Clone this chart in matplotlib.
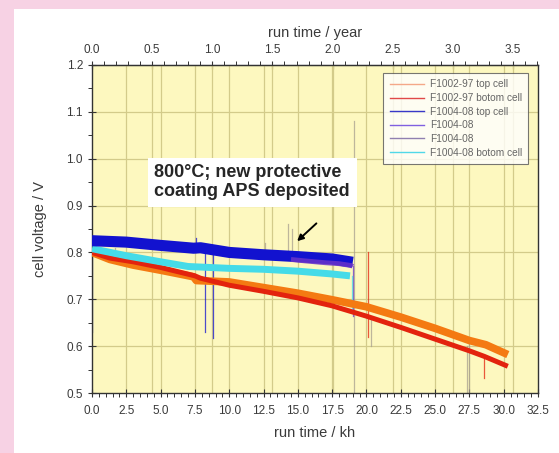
import numpy as np
import matplotlib
matplotlib.use("Agg")
import matplotlib.pyplot as plt
from matplotlib.lines import Line2D
from matplotlib.patches import Rectangle
from matplotlib.ticker import MultipleLocator, FormatStrFormatter

plt.rcParams['font.family'] = ['Liberation Sans', 'DejaVu Sans']

# --- data (run time in kh, cell voltage in V) ---
f1002_top_x = [0.0, 1.3, 3.0, 5.0, 7.4, 7.6, 10.0, 12.5, 15.0, 17.5, 20.0, 22.5, 25.0, 27.5, 28.7, 30.3]
f1002_top_y = [0.800, 0.785, 0.773, 0.762, 0.748, 0.740, 0.737, 0.725, 0.713, 0.699, 0.684, 0.662, 0.638, 0.612, 0.603, 0.582]

f1002_bot_x = [0.0, 1.3, 3.0, 5.0, 7.5, 7.9, 10.0, 12.5, 15.0, 17.5, 20.0, 22.5, 25.0, 27.5, 28.6, 30.3]
f1002_bot_y = [0.800, 0.788, 0.780, 0.768, 0.750, 0.745, 0.730, 0.717, 0.703, 0.686, 0.664, 0.640, 0.615, 0.590, 0.578, 0.557]

f1004_top_x = [0.0, 2.5, 5.0, 7.4, 7.9, 10.0, 12.5, 15.0, 17.5, 19.0]
f1004_top_y = [0.825, 0.822, 0.815, 0.809, 0.810, 0.800, 0.795, 0.791, 0.786, 0.779]

f1004_a_x = [14.5, 15.5, 17.0, 18.0, 18.9, 19.0]
f1004_a_y = [0.785, 0.782, 0.778, 0.776, 0.772, 0.770]

f1004_bot_x = [0.0, 2.5, 5.0, 7.0, 10.0, 12.5, 15.0, 17.5, 18.8]
f1004_bot_y = [0.808, 0.793, 0.780, 0.770, 0.766, 0.764, 0.760, 0.754, 0.750]

labels = ["F1002-97 top cell", "F1002-97 botom cell", "F1004-08 top cell",
          "F1004-08", "F1004-08", "F1004-08 botom cell"]
colors = ["#f47a12", "#e3230e", "#1212cf", "#6a34c8", "#8878a8", "#45dbe8"]
legend_colors = ["#f4a888", "#e04848", "#3838c8", "#8060e0", "#9080b0", "#50d8e8"]

# single-sample spikes in the records: x, low, high, series index
spike_x = [0.03, 8.2, 8.8, 7.6, 19.1, 19.0, 18.95, 20.1, 28.6, 1.7, 12.6, 14.3, 14.6, 20.3, 27.3, 27.5]
spike_lo = [0.630, 0.630, 0.617, 0.800, 0.500, 0.665, 0.670, 0.620, 0.532, 0.780, 0.790, 0.800, 0.800, 0.600, 0.500, 0.500]
spike_hi = [0.825, 0.805, 0.803, 0.830, 1.080, 0.770, 0.750, 0.800, 0.580, 0.810, 0.820, 0.860, 0.850, 0.660, 0.600, 0.610]
spike_series = [2, 2, 2, 2, 4, 3, 5, 1, 1, 4, 4, 4, 4, 0, 4, 4]

year_ticks = [0.0, 0.5, 1.0, 1.5, 2.0, 2.5, 3.0, 3.5]
KH_PER_YEAR = 8.766

fig = plt.figure(figsize=(5.59, 4.53), dpi=100)
fig.patch.set_facecolor("#f7d2e4")
fig.patches.append(Rectangle((14 / 559, 0), 1 - 14 / 559, 1 - 9 / 453,
                             transform=fig.transFigure, facecolor="white",
                             edgecolor="none", zorder=-5))

ax = fig.add_axes([92 / 559, 1 - 393 / 453, 446 / 559, 328 / 453])
ax.set_zorder(2)
ax.set_facecolor("#fdf8bf")
ax.set_xlim(0, 32.5)
ax.set_ylim(0.5, 1.2)

grid_c = "#d3cb8a"
for v in np.arange(2.5, 32.5, 2.5):
    ax.axvline(v, color=grid_c, lw=0.9, zorder=1)
for v in year_ticks[1:]:
    ax.axvline(v * KH_PER_YEAR, color=grid_c, lw=0.9, zorder=1)
for v in np.arange(0.6, 1.15, 0.1):
    ax.axhline(v, color=grid_c, lw=0.9, zorder=1)

for x, lo, hi, s in zip(spike_x, spike_lo, spike_hi, spike_series):
    c = colors[s] if s in (1, 2, 3, 5) else "#a8a090"
    ax.plot([x, x], [lo, hi], color=c, lw=0.9, alpha=0.75, zorder=2)

band = dict(solid_capstyle="butt", solid_joinstyle="round")
ax.plot(f1002_top_x, f1002_top_y, color=colors[0], lw=5.5, zorder=3, **band)
ax.plot(f1002_bot_x, f1002_bot_y, color=colors[1], lw=3.6, zorder=4, **band)
ax.plot(f1004_bot_x, f1004_bot_y, color=colors[5], lw=5, zorder=5, **band)
ax.plot(f1004_top_x, f1004_top_y, color=colors[2], lw=8, zorder=6, **band)
ax.plot(f1004_a_x, f1004_a_y, color=colors[3], lw=3.5, alpha=0.85, zorder=7, **band)

txt_c = "#3a3a3a"
ax.text(4.55, 0.950, "800°C; new protective\ncoating APS deposited",
        fontsize=13, fontweight="bold", color="#262626", ha="left", va="center",
        linespacing=1.1, zorder=9,
        bbox=dict(facecolor="white", edgecolor="none", pad=5))
ax.annotate("", xy=(14.8, 0.820), xytext=(16.5, 0.866),
            arrowprops=dict(arrowstyle="-|>", color="black", lw=1.4,
                            mutation_scale=9), zorder=9)

handles = [Line2D([], [], color=c, lw=1.0) for c in legend_colors]
leg = ax.legend(handles, labels, loc="upper right", bbox_to_anchor=(0.99, 0.99),
                fontsize=7.3, frameon=True, fancybox=False, handlelength=3.4,
                labelspacing=0.36, borderpad=0.6, handletextpad=0.6)
leg.get_frame().set_edgecolor("#555555")
leg.get_frame().set_linewidth(0.8)
for t in leg.get_texts():
    t.set_color("#666666")
leg.set_zorder(10)

ax.xaxis.set_major_locator(MultipleLocator(2.5))
ax.xaxis.set_minor_locator(MultipleLocator(0.5))
ax.yaxis.set_major_locator(MultipleLocator(0.1))
ax.yaxis.set_minor_locator(MultipleLocator(0.05))
ax.xaxis.set_major_formatter(FormatStrFormatter("%.1f"))
ax.yaxis.set_major_formatter(FormatStrFormatter("%.1f"))
ax.tick_params(which="major", direction="inout", length=6, width=0.8,
               labelsize=8.5, labelcolor=txt_c, color="#333333")
ax.tick_params(which="minor", direction="out", length=3, width=0.7, color="#333333")
ax.tick_params(axis="x", pad=6)
for s in ax.spines.values():
    s.set_color("#333333")
    s.set_linewidth(1.0)

sec = ax.secondary_xaxis("top", functions=(lambda x: x / KH_PER_YEAR,
                                          lambda y: y * KH_PER_YEAR))
sec.set_xticks(year_ticks)
sec.xaxis.set_minor_locator(MultipleLocator(0.1))
sec.xaxis.set_major_formatter(FormatStrFormatter("%.1f"))
sec.tick_params(which="major", direction="inout", length=6, width=0.8,
                labelsize=8.5, labelcolor=txt_c, color="#333333")
sec.tick_params(which="minor", direction="out", length=3, width=0.7, color="#333333")
sec.spines["top"].set_color("#333333")
sec.set_xlabel("run time / year", fontsize=10.5, color=txt_c, labelpad=5)

ax.set_xlabel("run time / kh", fontsize=10.5, color=txt_c, labelpad=6)
ax.set_ylabel("cell voltage / V", fontsize=10.5, color=txt_c, labelpad=14)

fig.savefig("out.png", dpi=100, facecolor=fig.get_facecolor())
